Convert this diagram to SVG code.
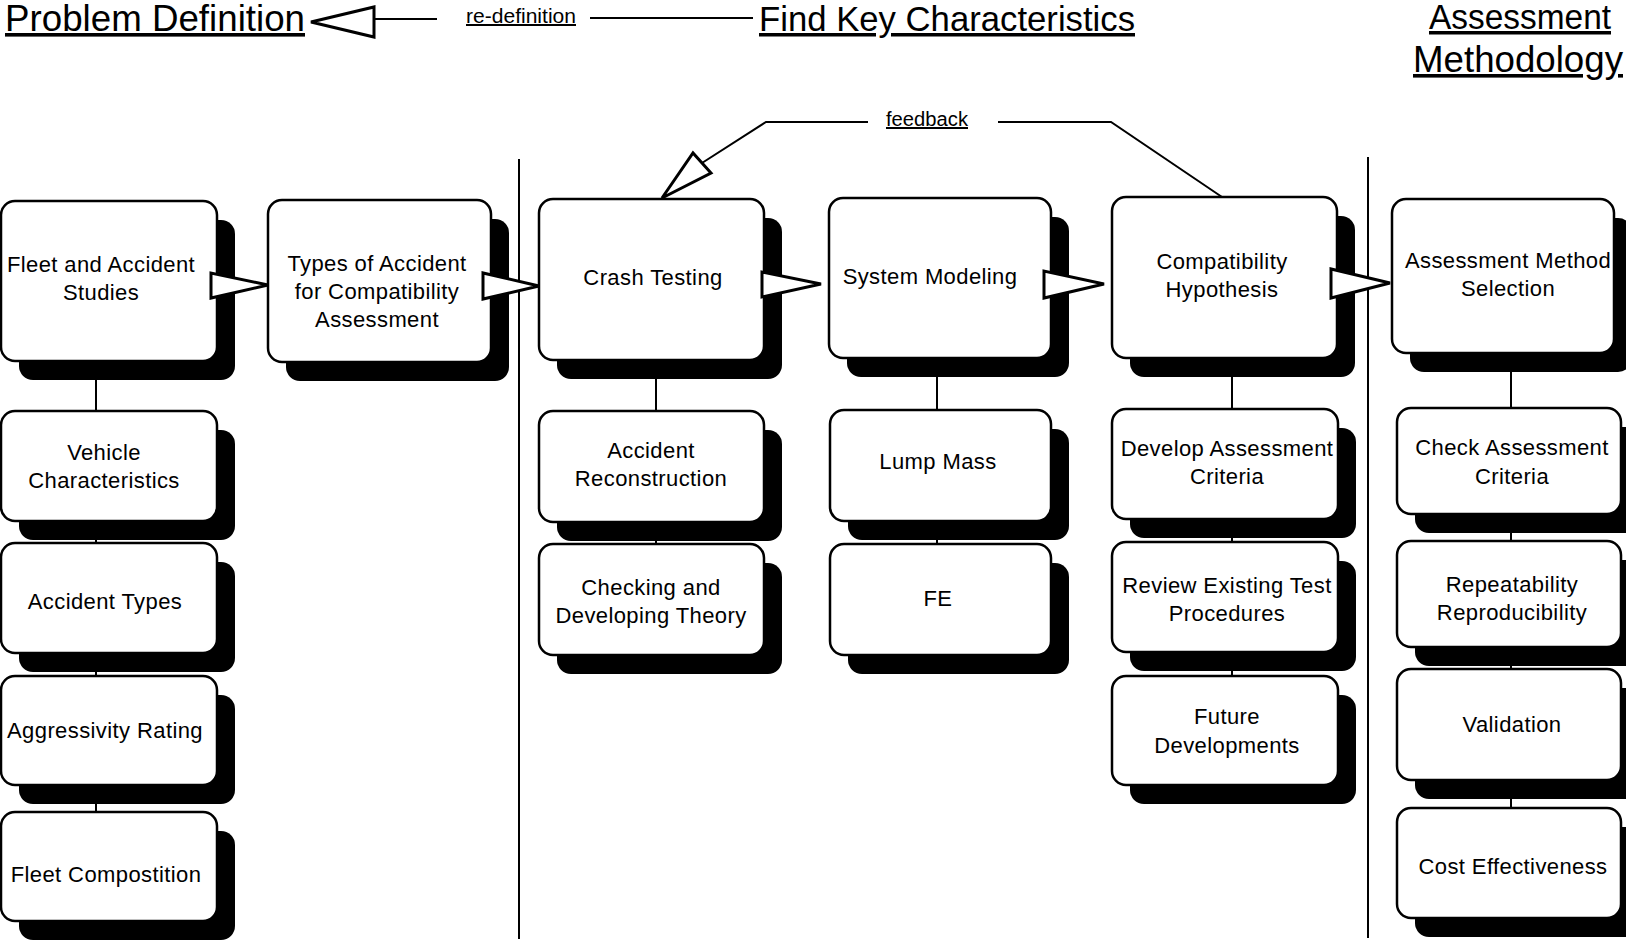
<svg xmlns="http://www.w3.org/2000/svg" width="1626" height="947" viewBox="0 0 1626 947">
<style>
.sh{fill:#000}
.box{fill:#fff;stroke:#000;stroke-width:2.5}
.t{font-family:"Liberation Sans",Arial,sans-serif;font-size:22px;text-anchor:middle;fill:#000;letter-spacing:0.4px}
.title{font-family:"Liberation Sans",Arial,sans-serif;fill:#000;text-decoration:underline}
.lbl{font-family:"Liberation Sans",Arial,sans-serif;font-size:20px;fill:#000;text-decoration:underline}
.ln{stroke:#000;stroke-width:2;fill:none}
.tri{fill:#fff;stroke:#000;stroke-width:3;stroke-linejoin:miter}
</style>
<rect width="1626" height="947" fill="#fff"/>
<g id="titles">
<text class="title" x="5" y="31" font-size="36" textLength="300" lengthAdjust="spacingAndGlyphs">Problem Definition</text>
<text class="title" x="759" y="31" font-size="35" textLength="376" lengthAdjust="spacingAndGlyphs">Find Key Characteristics</text>
<text class="title" x="1429" y="29" font-size="35" textLength="182" lengthAdjust="spacingAndGlyphs">Assessment</text>
<text class="title" x="1413" y="72" font-size="36" textLength="210" lengthAdjust="spacingAndGlyphs">Methodology</text>
</g>
<g id="dividers">
<line class="ln" x1="519" y1="159" x2="519" y2="939"/>
<line class="ln" x1="1368" y1="157" x2="1368" y2="938"/>
</g>
<g id="connectors">
<line class="ln" x1="96" y1="361" x2="96" y2="812"/>
<line class="ln" x1="656" y1="360" x2="656" y2="544"/>
<line class="ln" x1="937" y1="358" x2="937" y2="544"/>
<line class="ln" x1="1232" y1="358" x2="1232" y2="676"/>
<line class="ln" x1="1511" y1="353" x2="1511" y2="808"/>
<line class="ln" x1="374" y1="19" x2="437" y2="19"/>
<line class="ln" x1="590" y1="18" x2="753" y2="18"/>
<polyline class="ln" points="868,122 766,122 702,163"/>
<polyline class="ln" points="998,122 1111,122 1222,197"/>
</g>
<g id="n-fleet-studies"><rect class="sh" x="19" y="220" width="216" height="160" rx="14"/><rect class="box" x="1" y="201" width="216" height="160" rx="14"/><text class="t" x="101" y="272">Fleet and Accident</text><text class="t" x="101" y="300">Studies</text></g>
<g id="n-types"><rect class="sh" x="286" y="219" width="223" height="162" rx="14"/><rect class="box" x="268" y="200" width="223" height="162" rx="14"/><text class="t" x="377" y="271">Types of Accident</text><text class="t" x="377" y="299">for Compatibility</text><text class="t" x="377" y="327">Assessment</text></g>
<g id="n-crash"><rect class="sh" x="557" y="218" width="225" height="161" rx="14"/><rect class="box" x="539" y="199" width="225" height="161" rx="14"/><text class="t" x="653" y="285">Crash Testing</text></g>
<g id="n-system"><rect class="sh" x="847" y="217" width="222" height="160" rx="14"/><rect class="box" x="829" y="198" width="222" height="160" rx="14"/><text class="t" x="930" y="284">System Modeling</text></g>
<g id="n-hypothesis"><rect class="sh" x="1130" y="216" width="225" height="161" rx="14"/><rect class="box" x="1112" y="197" width="225" height="161" rx="14"/><text class="t" x="1222" y="269">Compatibility</text><text class="t" x="1222" y="297">Hypothesis</text></g>
<g id="n-selection"><rect class="sh" x="1410" y="218" width="222" height="154" rx="14"/><rect class="box" x="1392" y="199" width="222" height="154" rx="14"/><text class="t" x="1508" y="268">Assessment Method</text><text class="t" x="1508" y="296">Selection</text></g>
<g id="n-vehicle"><rect class="sh" x="19" y="430" width="216" height="110" rx="14"/><rect class="box" x="1" y="411" width="216" height="110" rx="14"/><text class="t" x="104" y="460">Vehicle</text><text class="t" x="104" y="488">Characteristics</text></g>
<g id="n-acctypes"><rect class="sh" x="19" y="562" width="216" height="110" rx="14"/><rect class="box" x="1" y="543" width="216" height="110" rx="14"/><text class="t" x="105" y="609">Accident Types</text></g>
<g id="n-aggr"><rect class="sh" x="19" y="695" width="216" height="109" rx="14"/><rect class="box" x="1" y="676" width="216" height="109" rx="14"/><text class="t" x="105" y="738">Aggressivity Rating</text></g>
<g id="n-fleetcomp"><rect class="sh" x="19" y="831" width="216" height="109" rx="14"/><rect class="box" x="1" y="812" width="216" height="109" rx="14"/><text class="t" x="106" y="882">Fleet Compostition</text></g>
<g id="n-accrec"><rect class="sh" x="557" y="430" width="225" height="111" rx="14"/><rect class="box" x="539" y="411" width="225" height="111" rx="14"/><text class="t" x="651" y="458">Accident</text><text class="t" x="651" y="486">Reconstruction</text></g>
<g id="n-theory"><rect class="sh" x="557" y="563" width="225" height="111" rx="14"/><rect class="box" x="539" y="544" width="225" height="111" rx="14"/><text class="t" x="651" y="595">Checking and</text><text class="t" x="651" y="623">Developing Theory</text></g>
<g id="n-lump"><rect class="sh" x="848" y="429" width="221" height="111" rx="14"/><rect class="box" x="830" y="410" width="221" height="111" rx="14"/><text class="t" x="938" y="469">Lump Mass</text></g>
<g id="n-fe"><rect class="sh" x="848" y="563" width="221" height="111" rx="14"/><rect class="box" x="830" y="544" width="221" height="111" rx="14"/><text class="t" x="938" y="606">FE</text></g>
<g id="n-develop"><rect class="sh" x="1130" y="428" width="226" height="110" rx="14"/><rect class="box" x="1112" y="409" width="226" height="110" rx="14"/><text class="t" x="1227" y="456">Develop Assessment</text><text class="t" x="1227" y="484">Criteria</text></g>
<g id="n-review"><rect class="sh" x="1130" y="561" width="226" height="110" rx="14"/><rect class="box" x="1112" y="542" width="226" height="110" rx="14"/><text class="t" x="1227" y="593">Review Existing Test</text><text class="t" x="1227" y="621">Procedures</text></g>
<g id="n-future"><rect class="sh" x="1130" y="695" width="226" height="109" rx="14"/><rect class="box" x="1112" y="676" width="226" height="109" rx="14"/><text class="t" x="1227" y="724">Future</text><text class="t" x="1227" y="753">Developments</text></g>
<g id="n-check"><rect class="sh" x="1415" y="427" width="224" height="106" rx="14"/><rect class="box" x="1397" y="408" width="224" height="106" rx="14"/><text class="t" x="1512" y="455">Check Assessment</text><text class="t" x="1512" y="484">Criteria</text></g>
<g id="n-repeat"><rect class="sh" x="1415" y="560" width="224" height="106" rx="14"/><rect class="box" x="1397" y="541" width="224" height="106" rx="14"/><text class="t" x="1512" y="592">Repeatability</text><text class="t" x="1512" y="620">Reproducibility</text></g>
<g id="n-validation"><rect class="sh" x="1415" y="688" width="224" height="111" rx="14"/><rect class="box" x="1397" y="669" width="224" height="111" rx="14"/><text class="t" x="1512" y="732">Validation</text></g>
<g id="n-cost"><rect class="sh" x="1415" y="827" width="224" height="110" rx="14"/><rect class="box" x="1397" y="808" width="224" height="110" rx="14"/><text class="t" x="1513" y="874">Cost Effectiveness</text></g>
<g id="arrowheads">
<polygon class="tri" points="211,273 211,298 268,285"/>
<polygon class="tri" points="483,273 483,299 539,286"/>
<polygon class="tri" points="762,272 762,297 821,284"/>
<polygon class="tri" points="1044,271 1044,298 1104,284"/>
<polygon class="tri" points="1331,269 1331,298 1390,283"/>
<polygon class="tri" points="311,22 374,7 374,37"/>
<polygon class="tri" points="662,198 693,153 711,173"/>
</g>
<g id="labels">
<text class="lbl" x="466" y="23" textLength="110" lengthAdjust="spacingAndGlyphs">re-definition</text>
<text class="lbl" x="886" y="126" textLength="82" lengthAdjust="spacingAndGlyphs">feedback</text>
</g>
</svg>
